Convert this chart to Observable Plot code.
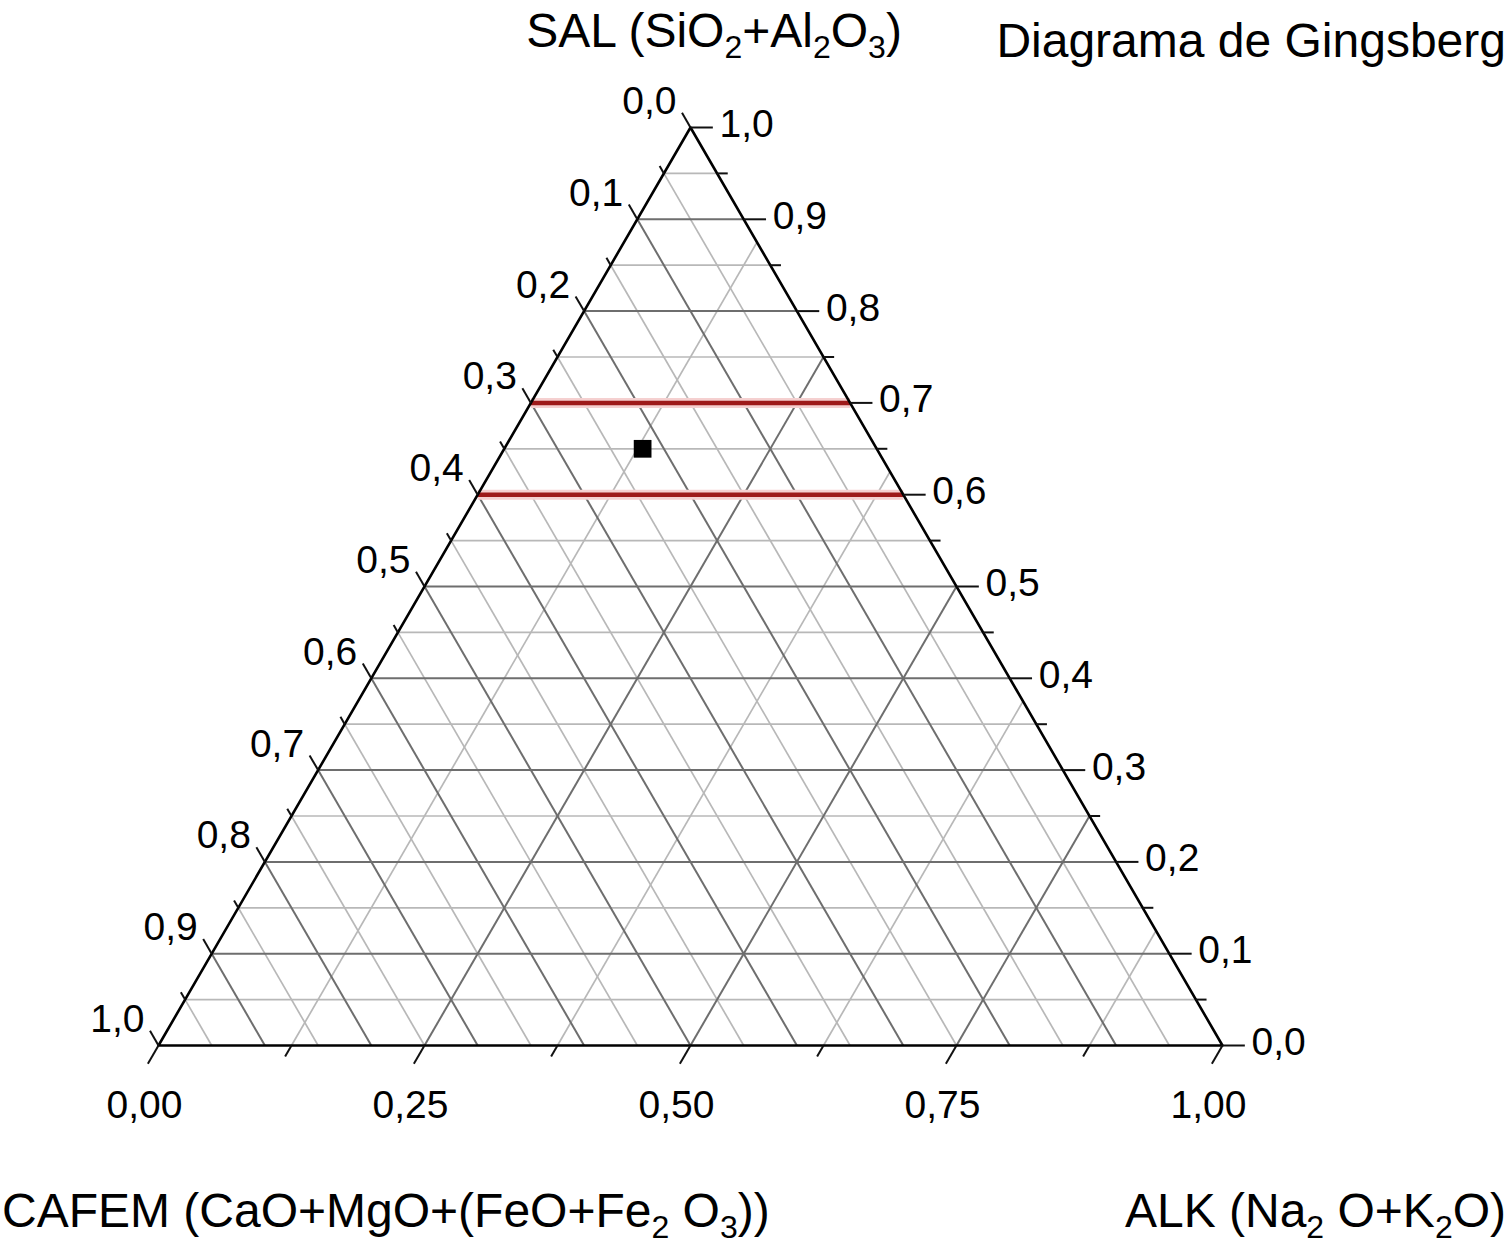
<!DOCTYPE html>
<html>
<head>
<meta charset="utf-8">
<script src="https://cdn.jsdelivr.net/npm/d3@7"></script>
<script src="https://cdn.jsdelivr.net/npm/@observablehq/plot@0.6"></script>
<style>
  html, body { margin: 0; padding: 0; background: #fff; }
  #chart svg { display: block; }
</style>
</head>
<body>
<div id="chart"></div>
<script>
// ---- Data ----
// SAL (top vertex), CAFEM (bottom-left vertex), ALK (bottom-right vertex)
const salMajor = [0.1, 0.2, 0.3, 0.4, 0.5, 0.6, 0.7, 0.8, 0.9];
const salMinor = [0.05, 0.15, 0.25, 0.35, 0.45, 0.55, 0.65, 0.75, 0.85, 0.95];
const cafemMajor = [0.1, 0.2, 0.3, 0.4, 0.5, 0.6, 0.7, 0.8, 0.9];
const cafemMinor = [0.05, 0.15, 0.25, 0.35, 0.45, 0.55, 0.65, 0.75, 0.85, 0.95];
const alkMajor = [0.25, 0.5, 0.75];
const alkMinor = [0.125, 0.375, 0.625, 0.875];

const salTicks = [1.0, 0.9, 0.8, 0.7, 0.6, 0.5, 0.4, 0.3, 0.2, 0.1, 0.0];
const salTickLabels = ["1,0", "0,9", "0,8", "0,7", "0,6", "0,5", "0,4", "0,3", "0,2", "0,1", "0,0"];
const cafemTicks = [0.0, 0.1, 0.2, 0.3, 0.4, 0.5, 0.6, 0.7, 0.8, 0.9, 1.0];
const cafemTickLabels = ["0,0", "0,1", "0,2", "0,3", "0,4", "0,5", "0,6", "0,7", "0,8", "0,9", "1,0"];
const alkTicks = [0.0, 0.25, 0.5, 0.75, 1.0];
const alkTickLabels = ["0,00", "0,25", "0,50", "0,75", "1,00"];
const alkMinorTicks = [0.125, 0.375, 0.625, 0.875];

// Gingsberg limits on SAL and the sample
const salLimits = [0.6, 0.7];
const sampleSal = [0.65];
const sampleCafem = [0.22];
const sampleAlk = [0.13];

// ---- Ternary -> cartesian (x: 0..1 along base, y: SAL height 0..1) ----
const tx = (s, c, a) => a + s / 2;
const ty = (s, c, a) => s;

// line builders
const salLine = s => ({x1: tx(s, 1 - s, 0), y1: s, x2: tx(s, 0, 1 - s), y2: s});
const cafemLine = c => ({x1: tx(1 - c, c, 0), y1: 1 - c, x2: tx(0, c, 1 - c), y2: 0});
const alkLine = a => ({x1: tx(0, 1 - a, a), y1: 0, x2: tx(1 - a, 0, a), y2: 1 - a});

const linkOpts = (data, stroke, sw) => Plot.link(data, {
  x1: "x1", y1: "y1", x2: "x2", y2: "y2", stroke, strokeWidth: sw
});

const minorCol = "#b8b8b8", majorCol = "#6e6e6e";

const grid = [
  linkOpts(salMinor.map(salLine), minorCol, 1.7),
  linkOpts(cafemMinor.map(cafemLine), minorCol, 1.7),
  linkOpts(alkMinor.map(alkLine), minorCol, 1.7),
  linkOpts(salMajor.map(salLine), majorCol, 2),
  linkOpts(cafemMajor.map(cafemLine), majorCol, 2),
  linkOpts(alkMajor.map(alkLine), majorCol, 2)
];

// ticks
const leftTick = (c, t) => ({x1: tx(1 - c, c, 0), y1: 1 - c, x2: tx(1 - c + t, c, -t), y2: 1 - c + t});
const rightTick = (s, t) => ({x1: tx(s, 0, 1 - s), y1: s, x2: tx(s, -t, 1 - s + t), y2: s});
const bottomTick = (a, t) => ({x1: tx(0, 1 - a, a), y1: 0, x2: tx(-t, 1 - a + t, a), y2: -t});

const ticks = [
  linkOpts(cafemTicks.map(c => leftTick(c, 0.016)), "#111", 2),
  linkOpts(cafemMinor.map(c => leftTick(c, 0.008)), "#111", 2),
  linkOpts(salTicks.map(s => rightTick(s, 0.021)), "#111", 2),
  linkOpts(salMinor.map(s => rightTick(s, 0.01)), "#111", 2),
  linkOpts(alkTicks.map(a => bottomTick(a, 0.02)), "#111", 2),
  linkOpts(alkMinorTicks.map(a => bottomTick(a, 0.012)), "#111", 2)
];

// triangle outline
const outline = [
  {x: tx(1, 0, 0), y: ty(1, 0, 0)},
  {x: tx(0, 0, 1), y: ty(0, 0, 1)},
  {x: tx(0, 1, 0), y: ty(0, 1, 0)},
  {x: tx(1, 0, 0), y: ty(1, 0, 0)}
];

const limitLines = salLimits.map(salLine);
const sample = sampleSal.map((s, i) => ({x: tx(s, sampleCafem[i], sampleAlk[i]), y: ty(s, sampleCafem[i], sampleAlk[i])}));

const FONT = "'Liberation Sans', Arial, Helvetica, sans-serif";

const chart = Plot.plot({
  width: 1510,
  height: 1248,
  marginLeft: 158,
  marginRight: 288,
  marginTop: 127,
  marginBottom: 203,
  x: {domain: [0, 1], axis: null},
  y: {domain: [0, 1], axis: null},
  style: {fontFamily: FONT, background: "#fff", color: "#000"},
  marks: [
    ...grid,
    linkOpts(limitLines, "#f5d0d0", 10),
    linkOpts(limitLines, "#9e1a1a", 4.5),
    Plot.line(outline, {x: "x", y: "y", stroke: "#000", strokeWidth: 2.6}),
    ...ticks,
    Plot.dot(sample, {x: "x", y: "y", symbol: "square", r: 10, fill: "#000", stroke: "none"}),
    Plot.text(cafemTicks, {
      x: c => tx(1 - c, c, 0), y: c => 1 - c,
      text: (d, i) => cafemTickLabels[i],
      textAnchor: "end", dx: -14, dy: -26, fontSize: 39, fill: "#000"
    }),
    Plot.text(salTicks, {
      x: s => tx(s, 0, 1 - s), y: s => s,
      text: (d, i) => salTickLabels[i],
      textAnchor: "start", dx: 29, dy: -3, fontSize: 39, fill: "#000"
    }),
    Plot.text(alkTicks, {
      x: a => tx(0, 1 - a, a), y: 0,
      text: (d, i) => alkTickLabels[i],
      textAnchor: "middle", dx: -14, dy: 60, fontSize: 39, fill: "#000"
    })
  ]
});

document.getElementById("chart").appendChild(chart);

// Vertex labels with real subscripts
function addLabel(x, y, anchor, parts) {
  const t = d3.select(chart).append("text")
    .attr("x", x).attr("y", y)
    .attr("text-anchor", anchor)
    .attr("font-family", FONT)
    .attr("font-size", 48)
    .attr("fill", "#000");
  let shifted = false;
  parts.forEach(p => {
    if (typeof p === "string") {
      const ts = t.append("tspan").text(p);
      if (shifted) { ts.attr("dy", -11); shifted = false; }
    } else {
      const ts = t.append("tspan").text(p.sub).attr("font-size", 32);
      ts.attr("dy", shifted ? 0 : 11);
      shifted = true;
    }
  });
  if (shifted) t.append("tspan").attr("dy", -11).text("");
}

addLabel(714, 47, "middle", ["SAL (SiO", {sub: "2"}, "+Al", {sub: "2"}, "O", {sub: "3"}, ")"]);
addLabel(1506, 57, "end", ["Diagrama de Gingsberg"]);
addLabel(2, 1227, "start", ["CAFEM (CaO+MgO+(FeO+Fe", {sub: "2"}, " O", {sub: "3"}, "))"]);
addLabel(1506, 1227, "end", ["ALK (Na", {sub: "2"}, " O+K", {sub: "2"}, "O)"]);
</script>
</body>
</html>
